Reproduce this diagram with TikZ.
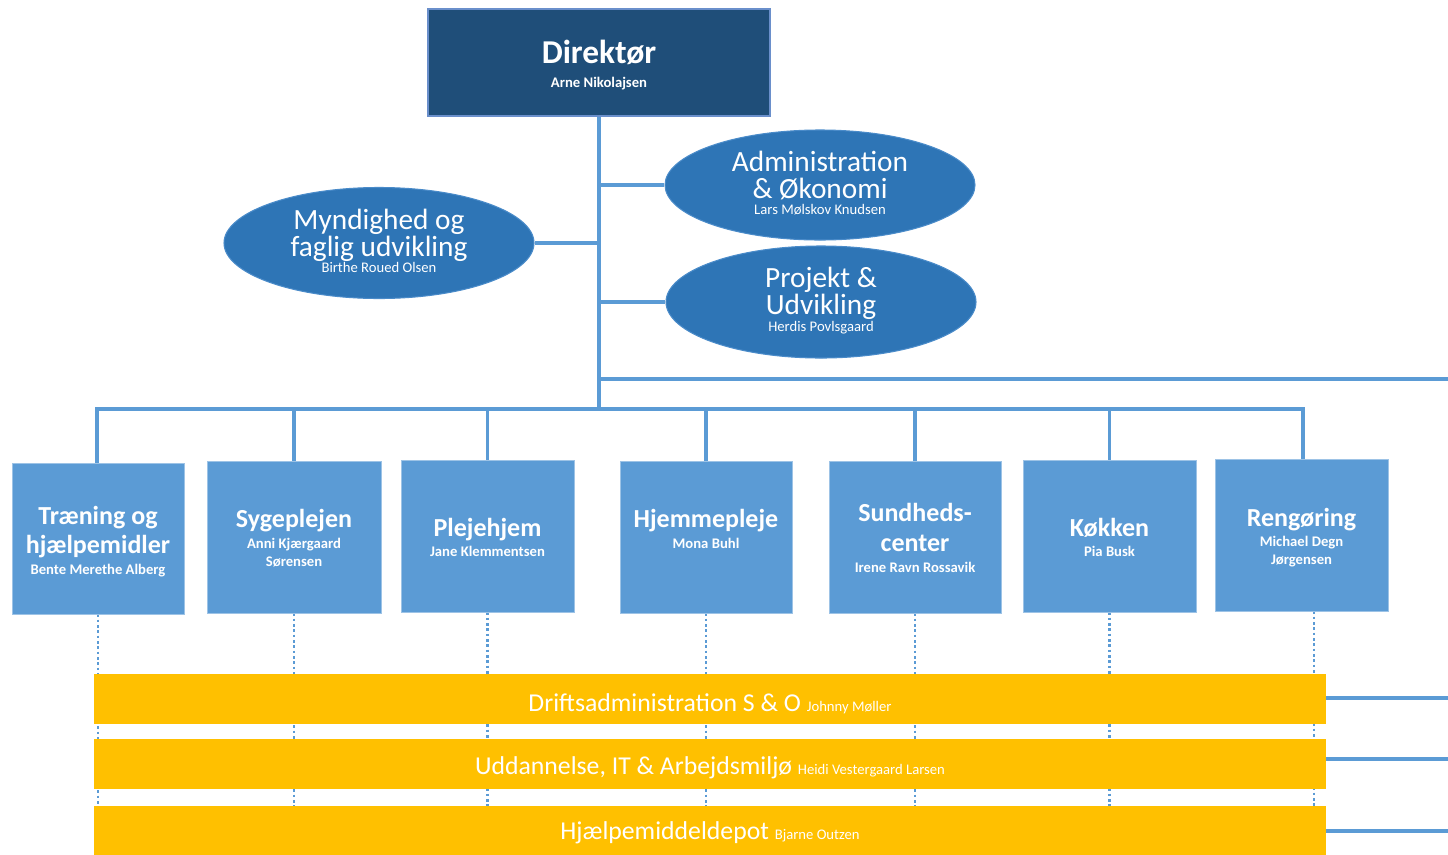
\documentclass[tikz,border=0pt]{standalone}
\usepackage{fontspec}
\setmainfont{Carlito}
\usetikzlibrary{shapes.geometric}
\definecolor{dirblue}{HTML}{1F4E79}
\definecolor{dirborder}{HTML}{6A8FCB}
\definecolor{ellblue}{HTML}{2E75B6}
\definecolor{ellborder}{HTML}{4A8BC9}
\definecolor{boxblue}{HTML}{5B9BD5}
\definecolor{boxborder}{HTML}{9DC3E6}
\definecolor{lineblue}{HTML}{5B9BD5}
\definecolor{barorange}{HTML}{FFC000}
\pgfdeclarelayer{background}
\pgfsetlayers{background,main}
\tikzset{
  dirbox/.style={rectangle, fill=dirblue, draw=dirborder, line width=1pt, inner sep=0pt, minimum width=342*0.75pt, minimum height=107*0.75pt},
  ell/.style={ellipse, fill=ellblue, draw=ellborder, line width=0.8pt, inner sep=0pt, minimum width=310*0.75pt, minimum height=111*0.75pt},
  dept/.style={rectangle, fill=boxblue, draw=boxborder, line width=0.6pt, inner sep=0pt, minimum width=173*0.75pt, minimum height=152*0.75pt},
  bar/.style={rectangle, fill=barorange, draw=none, inner sep=0pt, minimum width=1232*0.75pt, minimum height=50*0.75pt},
  txt/.style={anchor=base, text=white, inner sep=0pt, align=center},
  dirtitle/.style={txt, font=\fontsize{25}{30}\selectfont\bfseries},
  dirname/.style={txt, font=\fontsize{11}{13}\selectfont\bfseries},
  elltitle/.style={txt, font=\fontsize{22}{26}\selectfont},
  ellname/.style={txt, font=\fontsize{11}{13}\selectfont},
  depttitle/.style={txt, font=\fontsize{19.5}{23}\selectfont\bfseries},
  deptname/.style={txt, font=\fontsize{11}{13}\selectfont\bfseries},
  bartitle/.style={txt, font=\fontsize{19.3}{23}\selectfont},
  conn/.style={draw=lineblue, line width=2.3pt},
  dotconn/.style={draw=lineblue, line width=2.1pt, dash pattern=on 2pt off 2pt},
}
\begin{document}
\begin{tikzpicture}[x=0.75pt,y=-0.75pt]
\useasboundingbox (0,0) rectangle (1448,854);

% Director
\node[dirbox] (dir) at (599,62.5) {};
\node[dirtitle] (dirT) at (599,63) {Direktør};
\node[dirname] (dirN) at (599,87) {Arne Nikolajsen};

% Staff ellipses
\node[ell, minimum height=110*0.75pt] (adm) at (820,185) {};
\node[elltitle] (admT1) at (820,171) {Administration};
\node[elltitle] (admT2) at (820,198) {\& Økonomi};
\node[ellname] (admN) at (820,214) {Lars Mølskov Knudsen};

\node[ell] (myn) at (379,243) {};
\node[elltitle] (mynT1) at (379,229) {Myndighed og};
\node[elltitle] (mynT2) at (379,256) {faglig udvikling};
\node[ellname] (mynN) at (379,272) {Birthe Roued Olsen};

\node[ell, minimum height=112*0.75pt] (proj) at (821,302) {};
\node[elltitle] (projT1) at (821,287) {Projekt \&};
\node[elltitle] (projT2) at (821,314) {Udvikling};
\node[ellname] (projN) at (821,331) {Herdis Povlsgaard};

% Departments
\node[dept, minimum width=172*0.75pt, minimum height=151*0.75pt] (b1) at (98,538.5) {};
\node[depttitle] (b1T1) at (98,524) {Træning og};
\node[depttitle] (b1T2) at (98,553) {hjælpemidler};
\node[deptname] (b1N) at (98,574) {Bente Merethe Alberg};

\node[dept, minimum width=174*0.75pt] (b2) at (294,537) {};
\node[depttitle] (b2T) at (294,527) {Sygeplejen};
\node[deptname] (b2N1) at (294,548.5) {Anni Kjærgaard};
\node[deptname] (b2N2) at (294,566.5) {Sørensen};

\node[dept] (b3) at (487.5,536) {};
\node[depttitle] (b3T) at (487.5,536) {Plejehjem};
\node[deptname] (b3N) at (487.5,556) {Jane Klemmentsen};

\node[dept, minimum width=172*0.75pt] (b4) at (706,537) {};
\node[depttitle] (b4T) at (706,527) {Hjemmepleje};
\node[deptname] (b4N) at (706,548) {Mona Buhl};

\node[dept, minimum width=172*0.75pt] (b5) at (915,537) {};
\node[depttitle] (b5T1) at (915,521) {Sundheds-};
\node[depttitle] (b5T2) at (915,551.5) {center};
\node[deptname] (b5N) at (915,572.5) {Irene Ravn Rossavik};

\node[dept] (b6) at (1109.5,536) {};
\node[depttitle] (b6T) at (1109.5,536) {Køkken};
\node[deptname] (b6N) at (1109.5,556.5) {Pia Busk};

\node[dept] (b7) at (1301.5,535) {};
\node[depttitle] (b7T) at (1301.5,526) {Rengøring};
\node[deptname] (b7N1) at (1301.5,546) {Michael Degn};
\node[deptname] (b7N2) at (1301.5,564) {Jørgensen};

% Bars
\node[bar] (bar1) at (710,699) {};
\node[bartitle] (bar1T) at (710,711) {Driftsadministration S \& O {\fontsize{11}{13}\selectfont Johnny Møller}};
\node[bar] (bar2) at (710,764) {};
\node[bartitle] (bar2T) at (710,774) {Uddannelse, IT \& Arbejdsmiljø {\fontsize{11}{13}\selectfont Heidi Vestergaard Larsen}};
\node[bar] (bar3) at (710,831) {};
\node[bartitle] (bar3T) at (710,839) {Hjælpemiddeldepot {\fontsize{11}{13}\selectfont Bjarne Outzen}};

% Coordinates
\coordinate (bus) at (599,409);
\coordinate (rline) at (1448,379);
\coordinate (r1) at (1448,698);
\coordinate (r2) at (1448,759);
\coordinate (r3) at (1448,831);
\coordinate (bottom) at (0,856);

\begin{pgfonlayer}{background}
  % trunk and staff branches
  \draw[conn] (dir.south) -- (bus);
  \draw[conn] (adm.west) -- (adm.west -| dir.south);
  \draw[conn] (myn.east) -- (myn.east -| dir.south);
  \draw[conn] (proj.west) -- (proj.west -| dir.south);
  \draw[conn] (dir.south |- rline) -- (rline);
  % department bus
  \draw[conn] ([xshift=-0.75pt]b1.north) -- ([xshift=-0.75pt]b1.north |- bus) -- ([xshift=1.1pt]b7.north |- bus) -- ([xshift=1.1pt]b7.north);
  \foreach \b in {b2,b3,b4,b5,b6} {
    \draw[conn] (\b.north) -- (\b.north |- bus);
  }
  % dotted lines
  \foreach \b in {b1,b2,b3,b4,b5,b6} {
    \draw[dotconn] (\b.south) -- (\b.south |- bottom);
  }
  \draw[dotconn] ([xshift=9.4pt]b7.south) -- ([xshift=9.4pt]b7.south |- bottom);
  % bar lines to the right
  \draw[conn] (bar1.east |- r1) -- (r1);
  \draw[conn] (bar2.east |- r2) -- (r2);
  \draw[conn] (bar3.east |- r3) -- (r3);
\end{pgfonlayer}
\end{tikzpicture}
\end{document}
